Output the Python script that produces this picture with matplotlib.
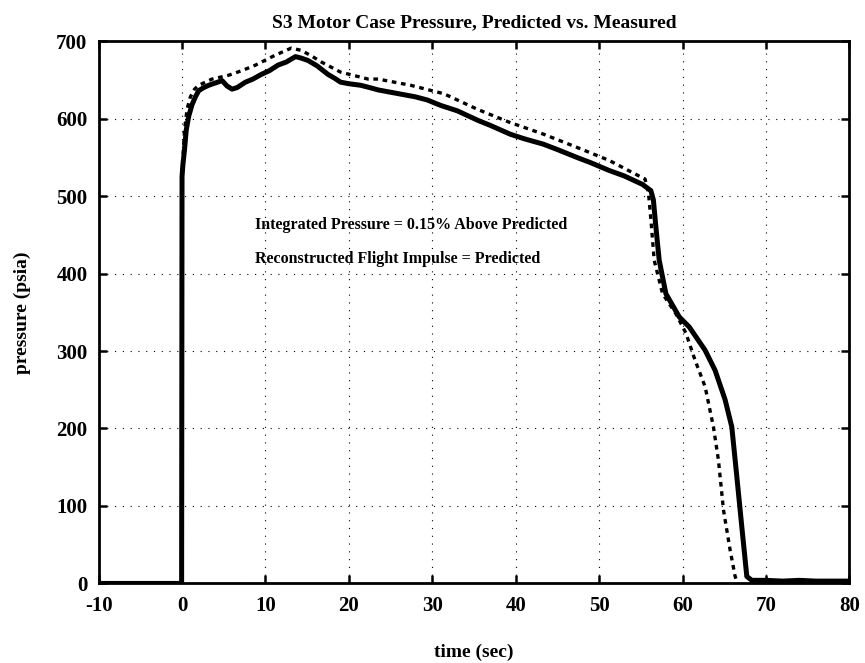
import matplotlib
matplotlib.use("Agg")
import matplotlib.pyplot as plt

# measured motor case pressure (solid)
t_meas = [-10, -0.05, 0.0, 0.1, 0.3, 0.5, 0.8, 1.2, 1.6, 2.0, 2.6, 3.2, 4.0, 4.8,
          5.4, 6.0, 6.6, 7.6, 8.5, 9.5, 10.5, 11.5, 12.5, 13.6, 14.3, 15.1, 16.2,
          17.5, 18.3, 19.0, 20.0, 21.4, 22.5, 23.5, 25.0, 26.5, 28.0, 29.4, 31.0,
          33.0, 35.4, 37.0, 39.3, 41.0, 43.3, 45.0, 47.3, 49.0, 51.2, 53.0, 55.2,
          56.2, 56.5, 56.8, 57.2, 58.0, 59.6, 60.8, 62.7, 63.9, 65.1, 65.9, 66.5,
          67.1, 67.7, 68.3, 70.0, 72.0, 74.0, 76.0, 78.0, 80.0]
p_meas = [0, 0, 525, 540, 560, 585, 603, 618, 628, 636, 640, 643, 646, 649,
          642, 638, 640, 647, 651, 657, 662, 669, 673, 680, 678, 675, 668,
          657, 652, 647, 645, 643, 640, 637, 634, 631, 628, 624, 617,
          610, 598, 591, 580, 574, 567, 560, 550, 543, 533, 526, 515,
          507, 495, 460, 417, 374, 344, 331, 301, 275, 237, 202, 138,
          73, 9, 4, 4, 3, 4, 3, 3, 3]

# predicted motor case pressure (dashed)
t_pred = [0.0, 0.3, 0.6, 1.0, 1.5, 2.0, 3.6, 5.6, 7.2, 8.8, 11.2, 13.1, 14.3,
          15.5, 16.7, 19.0, 22.3, 23.5, 27.4, 31.4, 35.4, 39.3, 43.3, 47.3,
          51.2, 54.4, 55.5, 55.9, 56.2, 56.6, 57.6, 59.2, 60.4, 61.5, 62.7,
          63.7, 64.3, 64.9, 65.7, 66.3, 66.6]
p_pred = [530, 585, 612, 628, 638, 643, 651, 656, 662, 669, 682, 691, 688,
          681, 673, 660, 651, 651, 643, 632, 612, 595, 580, 563,
          546, 528, 522, 505, 470, 417, 374, 348, 323, 288, 254,
          202, 159, 95, 43, 9, 0]

x_ticks = list(range(-10, 81, 10))
y_ticks = list(range(0, 701, 100))

serif = ["Liberation Serif", "DejaVu Serif"]
plt.rcParams["font.family"] = serif
plt.rcParams["font.weight"] = "bold"
plt.rcParams["axes.unicode_minus"] = False

fig = plt.figure(figsize=(8.65, 6.63), dpi=100)
ax = fig.add_axes([0.114, 0.120, 0.868, 0.818])

ax.plot(t_meas, p_meas, color="black", lw=3.6, solid_joinstyle="round", zorder=3)
ax.plot(t_pred, p_pred, color="black", lw=2.4, linestyle=(0, (1.4, 1.4)), zorder=3)

ax.set_xlim(-10, 80)
ax.set_ylim(0, 700)
ax.set_xticks(x_ticks)
ax.set_yticks(y_ticks)
ax.grid(True, color="black", lw=0.8, linestyle=(0, (1, 6)))
ax.tick_params(direction="in", length=6, width=1.8, top=True, right=True,
               labelsize=15)
ax.tick_params(axis="x", pad=9)
ax.tick_params(axis="y", pad=8)
for lab in ax.get_xticklabels() + ax.get_yticklabels():
    lab.set_fontweight("bold")
for s in ax.spines.values():
    s.set_linewidth(2.0)

ax.set_title("S3 Motor Case Pressure, Predicted vs. Measured", fontsize=14,
             fontweight="bold", pad=10)
ax.set_xlabel("time (sec)", fontsize=14, fontweight="bold", labelpad=20)
ax.set_ylabel("pressure (psia)", fontsize=14, fontweight="bold", labelpad=18)

ax.text(8.8, 463, "Integrated Pressure = 0.15% Above Predicted", fontsize=11.5,
        fontweight="bold", va="center", ha="left")
ax.text(8.8, 419, "Reconstructed Flight Impulse = Predicted", fontsize=11.5,
        fontweight="bold", va="center", ha="left")

fig.savefig("out.png", dpi=100)
